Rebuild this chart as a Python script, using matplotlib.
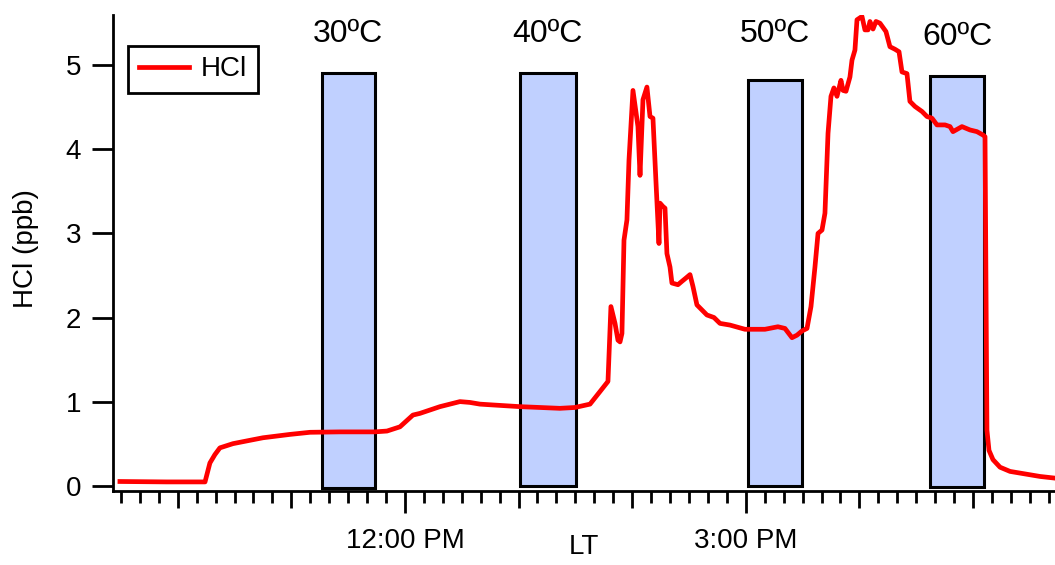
import numpy as np
import matplotlib.pyplot as plt
from matplotlib.ticker import MultipleLocator

plt.rcParams['font.family'] = ['Liberation Sans', 'DejaVu Sans']

# HCl mixing ratio (ppb) against local time in decimal hours
time_h = [9.491, 9.90, 10.24, 10.283, 10.327, 10.371, 10.486, 10.636, 10.750, 10.988,
          11.164, 11.428, 11.736, 11.842, 11.956, 12.070, 12.132, 12.308, 12.484, 12.572,
          12.660, 12.775, 13.012, 13.188, 13.364, 13.496, 13.629, 13.717, 13.787, 13.813,
          13.849, 13.875, 13.893, 13.910, 13.928, 13.954, 13.972, 14.007, 14.051, 14.069,
          14.095, 14.130, 14.157, 14.183, 14.210, 14.236, 14.245, 14.271, 14.289, 14.306,
          14.333, 14.350, 14.403, 14.438, 14.474, 14.509, 14.535, 14.570, 14.614, 14.658,
          14.720, 14.773, 14.861, 14.993, 15.169, 15.283, 15.345, 15.407, 15.451, 15.495,
          15.539, 15.574, 15.609, 15.636, 15.671, 15.697, 15.724, 15.750, 15.776, 15.803,
          15.838, 15.856, 15.882, 15.917, 15.935, 15.961, 15.979, 16.023, 16.049, 16.076,
          16.093, 16.120, 16.146, 16.181, 16.234, 16.269, 16.313, 16.349, 16.375, 16.419,
          16.445, 16.489, 16.551, 16.595, 16.639, 16.683, 16.754, 16.798, 16.824, 16.903,
          16.974, 17.035, 17.088, 17.106, 17.114, 17.123, 17.141, 17.176, 17.238, 17.326,
          17.458, 17.590, 17.722]
hcl_ppb = [0.05, 0.045, 0.045, 0.27, 0.37, 0.45, 0.50, 0.54, 0.57, 0.61,
           0.635, 0.64, 0.64, 0.65, 0.70, 0.84, 0.86, 0.94, 1.00, 0.99,
           0.97, 0.96, 0.94, 0.93, 0.92, 0.93, 0.97, 1.12, 1.24, 2.13,
           1.93, 1.73, 1.71, 1.81, 2.92, 3.16, 3.87, 4.70, 4.27, 3.69,
           4.59, 4.74, 4.39, 4.37, 3.60, 2.88, 3.36, 3.32, 3.30, 2.76,
           2.60, 2.41, 2.39, 2.43, 2.47, 2.51, 2.37, 2.15, 2.09, 2.03,
           2.00, 1.93, 1.91, 1.86, 1.86, 1.89, 1.87, 1.76, 1.79, 1.84,
           1.87, 2.13, 2.60, 3.00, 3.04, 3.24, 4.19, 4.63, 4.73, 4.63,
           4.82, 4.70, 4.69, 4.86, 5.06, 5.18, 5.54, 5.58, 5.42, 5.42,
           5.52, 5.43, 5.52, 5.50, 5.40, 5.22, 5.19, 5.16, 4.92, 4.90,
           4.57, 4.51, 4.45, 4.39, 4.37, 4.29, 4.29, 4.27, 4.21, 4.27,
           4.23, 4.21, 4.17, 4.15, 2.50, 0.66, 0.42, 0.31, 0.22, 0.17,
           0.14, 0.11, 0.09]

# heating windows
temp_labels = ['30ºC', '40ºC', '50ºC', '60ºC']
win_start = [11.266, 13.012, 15.022, 16.621]
win_end = [11.736, 13.503, 15.491, 17.100]
win_top = [4.91, 4.91, 4.83, 4.875]
win_bottom = [-0.03, 0.0, 0.0, -0.015]

hour_ticks = [10, 11, 12, 13, 14, 15, 16, 17]
labelled_hours = [12, 15]
hour_labels = ['12:00 PM', '3:00 PM']

fig = plt.figure(figsize=(10.55, 5.65), dpi=100)
ax = fig.add_axes([113/1055, 1 - 491/565, 942/1055, 476/565])

starts = np.array(win_start)
ends = np.array(win_end)
tops = np.array(win_top)
bottoms = np.array(win_bottom)
ax.bar(starts, tops - bottoms, width=ends - starts, bottom=bottoms, align='edge',
       color='#c0d0ff', edgecolor='black', linewidth=2.2, zorder=1)
for s, e, lab in zip(starts, ends, temp_labels):
    y = 5.24 if lab == '60ºC' else 5.28
    ax.text((s + e) / 2, y, lab, ha='center', va='baseline', fontsize=23)

ax.plot(time_h, hcl_ppb, color='red', lw=3.4, label='HCl', zorder=3,
        solid_joinstyle='round')

ax.set_xlim(9.43, 17.722)
ax.set_ylim(-0.063, 5.597)

for side in ['top', 'right']:
    ax.spines[side].set_visible(False)
for side in ['left', 'bottom']:
    ax.spines[side].set_linewidth(2)

ax.set_yticks(range(6))
ax.tick_params(axis='y', direction='out', length=15, width=2, labelsize=20, pad=8)

labels = [hour_labels[labelled_hours.index(h)] if h in labelled_hours else ''
          for h in hour_ticks]
ax.set_xticks(hour_ticks, labels)
ax.xaxis.set_minor_locator(MultipleLocator(1/6))
ax.tick_params(axis='x', which='major', direction='out', length=15.8, width=2,
               labelsize=20, pad=11)
ax.tick_params(axis='x', which='minor', direction='out', length=8.6, width=2)
for tick, h in zip(ax.xaxis.get_major_ticks(), hour_ticks):
    if h not in labelled_hours:
        tick.tick1line.set_markersize(12.2)

ax.set_xlabel('LT', fontsize=20)
ax.xaxis.set_label_coords(0.5, -0.09)
ax.set_ylabel('HCl (ppb)', fontsize=20, va='center')
ax.yaxis.set_label_coords(-0.092, 0.51)

leg = ax.legend(loc='upper left', bbox_to_anchor=(0.016, 0.9355), borderaxespad=0,
                fancybox=False, edgecolor='black', framealpha=1, fontsize=20,
                handlelength=1.8, handletextpad=0.45, borderpad=0.38)
leg.get_frame().set_linewidth(2)

fig.savefig('out.png', dpi=100)
